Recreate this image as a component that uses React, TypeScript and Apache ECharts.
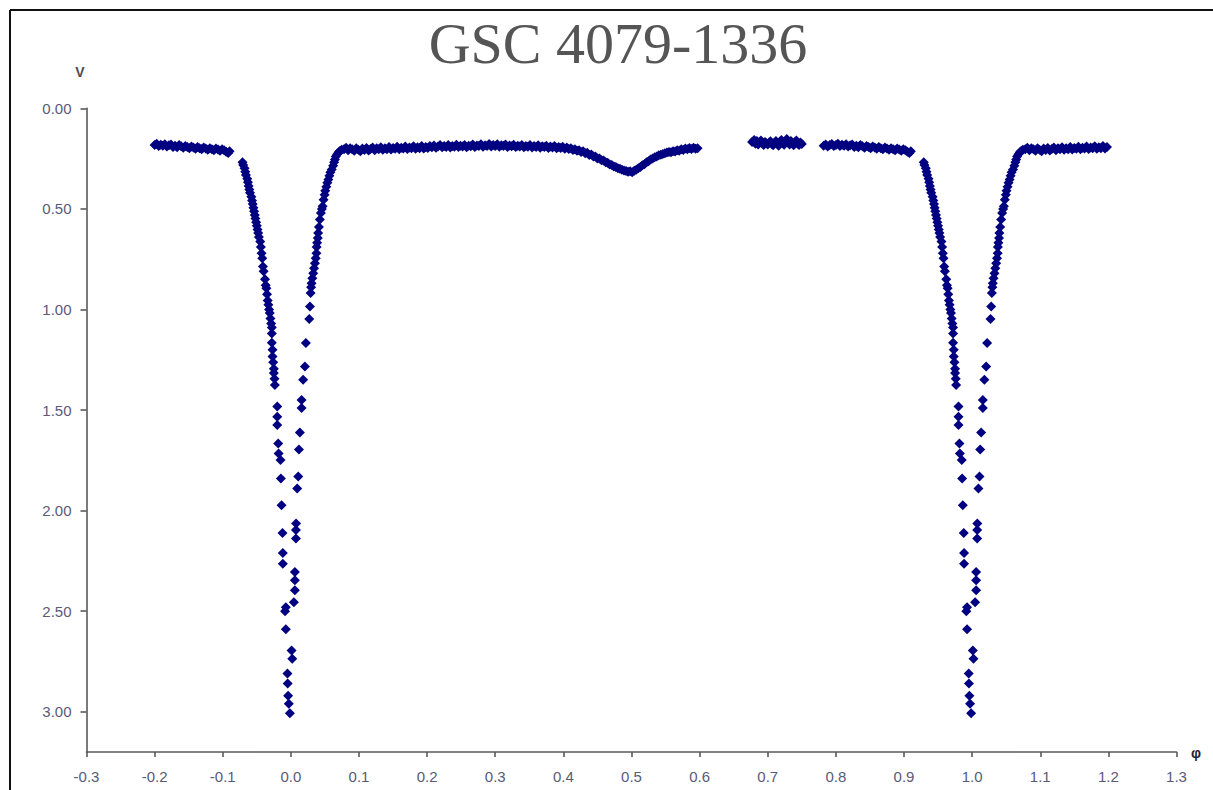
import React, { useEffect, useRef } from "react";
import * as echarts from "echarts";

// Phase (φ) and V magnitude readings, grouped by segment of the light curve
const leftShoulder: [number, number][] = [
  [-0.2, 0.183], [-0.197, 0.176], [-0.194, 0.188], [-0.191, 0.181], [-0.188, 0.186], [-0.185, 0.179],
  [-0.182, 0.19], [-0.179, 0.184], [-0.176, 0.18], [-0.173, 0.192], [-0.17, 0.186], [-0.167, 0.194],
  [-0.164, 0.183], [-0.161, 0.189], [-0.158, 0.196], [-0.155, 0.187], [-0.152, 0.192], [-0.149, 0.198],
  [-0.146, 0.19], [-0.143, 0.195], [-0.14, 0.201], [-0.137, 0.192], [-0.134, 0.198], [-0.131, 0.203],
  [-0.128, 0.195], [-0.125, 0.2], [-0.122, 0.206], [-0.119, 0.198], [-0.116, 0.203], [-0.113, 0.208],
  [-0.11, 0.2], [-0.107, 0.205], [-0.104, 0.211], [-0.101, 0.203], [-0.098, 0.208], [-0.095, 0.216],
  [-0.092, 0.222], [-0.09, 0.213],
];

const primaryIngress: [number, number][] = [
  [-0.071, 0.268], [-0.07, 0.282], [-0.068, 0.298], [-0.067, 0.316], [-0.066, 0.332], [-0.064, 0.35],
  [-0.063, 0.368], [-0.062, 0.386], [-0.061, 0.404], [-0.06, 0.42], [-0.058, 0.44], [-0.057, 0.458],
  [-0.056, 0.476], [-0.055, 0.494], [-0.054, 0.512], [-0.053, 0.53], [-0.052, 0.548], [-0.051, 0.566],
  [-0.05, 0.584], [-0.049, 0.602], [-0.048, 0.62], [-0.047, 0.64], [-0.045, 0.662], [-0.044, 0.69],
  [-0.043, 0.72], [-0.042, 0.745], [-0.041, 0.786], [-0.04, 0.81], [-0.038, 0.85], [-0.037, 0.88],
  [-0.036, 0.894], [-0.035, 0.925], [-0.034, 0.955], [-0.033, 0.977], [-0.032, 1.0], [-0.031, 1.017],
  [-0.03, 1.045], [-0.029, 1.07], [-0.028, 1.09], [-0.028, 1.12], [-0.028, 1.166], [-0.027, 1.2],
  [-0.027, 1.234], [-0.026, 1.262], [-0.025, 1.295], [-0.025, 1.316], [-0.024, 1.345], [-0.0235, 1.375],
  [-0.02, 1.483], [-0.02, 1.533], [-0.02, 1.574], [-0.0186, 1.666], [-0.018, 1.716], [-0.0152, 1.749],
  [-0.0147, 1.84], [-0.0137, 1.973], [-0.0123, 2.111], [-0.0118, 2.211], [-0.0118, 2.264], [-0.0074, 2.48],
  [-0.0085, 2.5], [-0.0074, 2.59], [-0.005, 2.81], [-0.0047, 2.86], [-0.004, 2.92], [-0.003, 2.96],
  [-0.0015, 3.007],
];

const primaryEgress: [number, number][] = [
  [0.001, 2.695], [0.002, 2.737], [0.0044, 2.455], [0.0059, 2.305], [0.0059, 2.346], [0.0059, 2.396],
  [0.0074, 2.139], [0.0074, 2.097], [0.0076, 2.064], [0.0093, 1.89], [0.0108, 1.83], [0.0118, 1.696],
  [0.0132, 1.612], [0.0157, 1.49], [0.0157, 1.45], [0.018, 1.35], [0.0206, 1.283], [0.022, 1.167],
  [0.027, 1.048], [0.028, 0.985], [0.029, 0.918], [0.0297, 0.89], [0.0304, 0.87], [0.0315, 0.845],
  [0.0328, 0.82], [0.034, 0.795], [0.0353, 0.77], [0.0365, 0.745], [0.0375, 0.72], [0.0378, 0.69],
  [0.0385, 0.669], [0.0395, 0.645], [0.04, 0.62], [0.0412, 0.59], [0.0426, 0.553], [0.044, 0.52],
  [0.0455, 0.5], [0.0466, 0.487], [0.048, 0.455], [0.0495, 0.43], [0.0505, 0.41], [0.052, 0.39],
  [0.0535, 0.37], [0.055, 0.354], [0.0565, 0.335], [0.058, 0.318], [0.06, 0.304], [0.062, 0.285],
  [0.0635, 0.268], [0.0647, 0.254], [0.066, 0.24], [0.068, 0.228], [0.07, 0.218], [0.072, 0.212],
  [0.0745, 0.206],
];

const rightShoulder: [number, number][] = [
  [0.078, 0.203], [0.081, 0.196], [0.084, 0.208], [0.087, 0.199], [0.09, 0.204], [0.093, 0.211],
  [0.096, 0.198], [0.099, 0.206], [0.102, 0.213], [0.105, 0.2], [0.108, 0.207], [0.111, 0.197],
  [0.114, 0.21], [0.117, 0.202], [0.12, 0.195], [0.123, 0.208], [0.126, 0.199], [0.129, 0.204],
  [0.132, 0.194], [0.135, 0.206], [0.138, 0.198], [0.141, 0.203], [0.144, 0.192], [0.147, 0.205],
  [0.15, 0.197], [0.153, 0.201], [0.156, 0.191], [0.159, 0.204], [0.162, 0.196], [0.165, 0.2],
  [0.168, 0.19], [0.171, 0.202], [0.174, 0.195], [0.177, 0.199], [0.18, 0.189], [0.183, 0.201],
  [0.186, 0.194], [0.189, 0.198], [0.192, 0.188], [0.195, 0.2], [0.198, 0.193],
];

const middlePhase: [number, number][] = [
  [0.201, 0.197], [0.204, 0.188], [0.207, 0.194], [0.21, 0.185], [0.213, 0.196], [0.216, 0.19],
  [0.219, 0.183], [0.222, 0.194], [0.225, 0.187], [0.228, 0.192], [0.231, 0.182], [0.234, 0.195],
  [0.237, 0.188], [0.24, 0.191], [0.243, 0.181], [0.246, 0.193], [0.249, 0.186], [0.252, 0.19],
  [0.255, 0.182], [0.258, 0.194], [0.261, 0.186], [0.264, 0.189], [0.267, 0.18], [0.27, 0.192],
  [0.273, 0.185], [0.276, 0.188], [0.279, 0.179], [0.282, 0.191], [0.285, 0.184], [0.288, 0.187],
  [0.291, 0.178], [0.294, 0.19], [0.297, 0.183], [0.3, 0.187], [0.303, 0.179], [0.306, 0.191],
  [0.309, 0.184], [0.312, 0.188], [0.315, 0.18], [0.318, 0.192], [0.321, 0.185], [0.324, 0.189],
  [0.327, 0.181], [0.33, 0.193], [0.333, 0.186], [0.336, 0.19], [0.339, 0.182], [0.342, 0.194],
  [0.345, 0.187], [0.348, 0.191], [0.351, 0.183], [0.354, 0.195], [0.357, 0.188], [0.36, 0.192],
  [0.363, 0.184], [0.366, 0.196], [0.369, 0.189], [0.372, 0.193], [0.375, 0.186], [0.378, 0.197],
  [0.381, 0.19], [0.384, 0.195], [0.387, 0.188], [0.39, 0.199], [0.393, 0.192], [0.396, 0.197],
  [0.399, 0.191], [0.402, 0.201], [0.405, 0.195], [0.408, 0.202], [0.411, 0.198], [0.414, 0.207],
  [0.417, 0.203], [0.42, 0.211], [0.423, 0.208], [0.426, 0.217], [0.429, 0.214], [0.432, 0.224],
  [0.435, 0.221], [0.438, 0.232], [0.441, 0.23], [0.444, 0.24], [0.447, 0.239], [0.45, 0.249],
  [0.453, 0.249], [0.456, 0.258], [0.459, 0.26], [0.462, 0.268], [0.465, 0.271], [0.468, 0.279],
  [0.471, 0.282], [0.474, 0.289], [0.477, 0.292], [0.48, 0.298], [0.483, 0.301], [0.486, 0.306],
  [0.489, 0.309], [0.492, 0.312], [0.495, 0.315], [0.498, 0.313], [0.501, 0.318], [0.504, 0.311],
  [0.507, 0.306], [0.51, 0.298], [0.513, 0.292], [0.516, 0.283], [0.519, 0.278], [0.522, 0.268],
  [0.525, 0.263], [0.528, 0.254], [0.531, 0.25], [0.534, 0.243], [0.537, 0.24], [0.54, 0.234],
  [0.543, 0.231], [0.546, 0.227], [0.549, 0.223], [0.552, 0.22], [0.555, 0.217], [0.558, 0.219],
  [0.561, 0.214], [0.564, 0.215], [0.567, 0.209], [0.57, 0.211], [0.573, 0.204], [0.576, 0.207],
  [0.579, 0.2], [0.582, 0.204], [0.585, 0.197], [0.588, 0.202], [0.591, 0.196], [0.594, 0.201],
  [0.597, 0.199],
];

const isolatedSegment: [number, number][] = [
  [0.677, 0.168], [0.68, 0.158], [0.682, 0.176], [0.684, 0.163], [0.686, 0.18], [0.688, 0.17],
  [0.69, 0.16], [0.692, 0.175], [0.694, 0.182], [0.696, 0.167], [0.698, 0.174], [0.7, 0.18],
  [0.702, 0.17], [0.704, 0.164], [0.706, 0.178], [0.708, 0.184], [0.71, 0.171], [0.712, 0.162],
  [0.714, 0.176], [0.716, 0.186], [0.718, 0.168], [0.72, 0.158], [0.722, 0.174], [0.724, 0.181],
  [0.726, 0.165], [0.728, 0.152], [0.73, 0.17], [0.732, 0.18], [0.734, 0.163], [0.736, 0.174],
  [0.738, 0.184], [0.74, 0.168], [0.742, 0.16], [0.744, 0.176], [0.746, 0.183], [0.748, 0.17],
  [0.75, 0.178],
];

const lateSegment: [number, number][] = [
  [0.782, 0.186], [0.785, 0.18], [0.788, 0.19], [0.791, 0.183], [0.794, 0.178], [0.797, 0.188],
];

// Phase-folded plot: the -0.2..0.2 observations are repeated one cycle later (0.8..1.2)
const eclipseWindow = [...leftShoulder, ...primaryIngress, ...primaryEgress, ...rightShoulder];
const nextCycle = eclipseWindow.map(([p, v]) => [p + 1, v]);

const xTicks = { min: -0.3, max: 1.3, interval: 0.1 };
const yTicks = { min: 0, max: 3.2, interval: 0.5 };

const TITLE = "GSC 4079-1336";

export default function App() {
  const ref = useRef<HTMLDivElement>(null);

  useEffect(() => {
    document.body.style.margin = "0";
    const chart = echarts.init(ref.current!, undefined, { renderer: "svg" });
    const labelColor = "#5a5a78";
    const axisColor = "#5a5a5a";
    chart.setOption({
      animation: false,
      backgroundColor: "#ffffff",
      grid: { left: 86.5, right: 36.5, top: 108.3, bottom: 38 },
      xAxis: {
        type: "value",
        min: xTicks.min,
        max: xTicks.max,
        interval: xTicks.interval,
        splitLine: { show: false },
        axisLine: { show: true, onZero: false, lineStyle: { color: axisColor, width: 1.6 } },
        axisTick: { show: true, inside: false, length: 5, lineStyle: { color: axisColor, width: 1.6 } },
        axisLabel: {
          margin: 17,
          color: labelColor,
          fontSize: 15,
          fontFamily: "Liberation Sans, Arial, sans-serif",
          formatter: (v: number) => (Math.abs(v) < 1e-9 ? "0.0" : v.toFixed(1)),
        },
      },
      yAxis: {
        type: "value",
        inverse: true,
        min: yTicks.min,
        max: yTicks.max,
        interval: yTicks.interval,
        splitLine: { show: false },
        axisLine: { show: true, onZero: false, lineStyle: { color: axisColor, width: 1.6 } },
        axisTick: { show: true, inside: false, length: 6, lineStyle: { color: axisColor, width: 1.6 } },
        axisLabel: {
          margin: 15,
          color: labelColor,
          fontSize: 15,
          fontFamily: "Liberation Sans, Arial, sans-serif",
          showMaxLabel: false,
          formatter: (v: number) => v.toFixed(2),
        },
      },
      graphic: [
        { type: "line", shape: { x1: 10, y1: 10, x2: 1213, y2: 10 }, style: { stroke: "#111111", lineWidth: 2 } },
        { type: "line", shape: { x1: 10, y1: 10, x2: 10, y2: 790 }, style: { stroke: "#111111", lineWidth: 2 } },
        {
          type: "text",
          x: 618,
          y: 43,
          style: {
            text: TITLE,
            fill: "#555555",
            font: "58px 'Liberation Serif', 'Times New Roman', serif",
            align: "center",
            verticalAlign: "middle",
          },
        },
        {
          type: "text",
          x: 80,
          y: 72,
          style: {
            text: "V",
            fill: "#4a4a55",
            font: "bold 14px 'Liberation Sans', Arial, sans-serif",
            align: "center",
            verticalAlign: "middle",
          },
        },
        {
          type: "text",
          x: 1196,
          y: 753,
          style: {
            text: "φ",
            fill: "#222233",
            font: "bold 14px 'Liberation Sans', Arial, sans-serif",
            align: "center",
            verticalAlign: "middle",
          },
        },
      ],
      series: [
        {
          name: "V",
          type: "scatter",
          symbol: "diamond",
          symbolSize: 10,
          itemStyle: { color: "#000080", opacity: 1 },
          data: [...eclipseWindow, ...middlePhase, ...isolatedSegment, ...lateSegment, ...nextCycle],
        },
      ],
    });
    return () => chart.dispose();
  }, []);

  return (
    <div
      ref={ref}
      style={{ position: "absolute", left: 0, top: 0, width: 1213, height: 790 }}
    />
  );
}
